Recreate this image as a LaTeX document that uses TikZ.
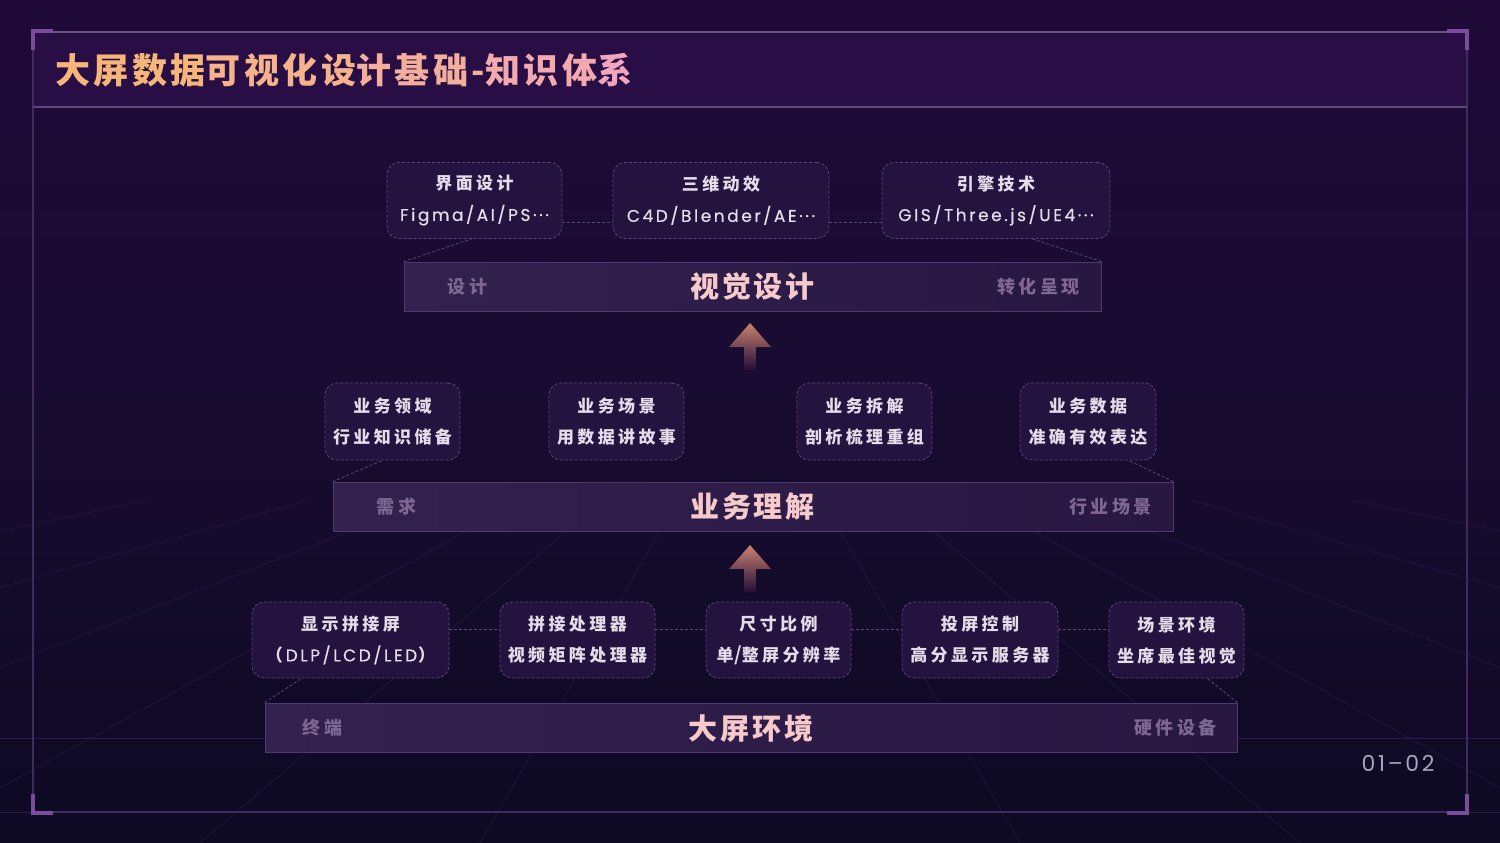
\documentclass[tikz,border=0pt]{standalone}
\usepackage{fontspec}
\usetikzlibrary{calc}
\newfontfamily\cjk{Noto Sans CJK SC}
\newfontfamily\cjkls{Noto Sans CJK SC}[LetterSpace=20]
\newfontfamily\cjkbig{Noto Sans CJK SC}[LetterSpace=10]
\newfontfamily\cjktitle{Noto Sans CJK SC}[LetterSpace=10]
\newfontfamily\latls{Poppins}[LetterSpace=15,FakeBold=0.5]
\newfontfamily\pagefont{Poppins}[LetterSpace=12]
\definecolor{bgtop}{HTML}{200A38}
\definecolor{bgmid}{HTML}{180B30}
\definecolor{bgbot}{HTML}{0D0A22}
\definecolor{framecol}{HTML}{3F2B5F}
\definecolor{cornercol}{HTML}{7B4C9C}
\definecolor{titlebarcol}{HTML}{2A0F47}
\definecolor{cardfill}{HTML}{261542}
\definecolor{cardline}{HTML}{5C4579}
\definecolor{cardtext}{HTML}{E4DCE8}
\definecolor{barleft}{HTML}{33214F}
\definecolor{barright}{HTML}{271741}
\definecolor{barline}{HTML}{4E3A6C}
\definecolor{sidetext}{HTML}{806792}
\definecolor{maintext}{HTML}{F6CACB}
\definecolor{titleA}{HTML}{F6B67A}
\definecolor{titleB}{HTML}{F2A6BE}
\definecolor{pagetext}{HTML}{A7A3BD}
\definecolor{arrowtop}{HTML}{C98270}
\definecolor{gridcol}{HTML}{4A2F7A}
\tikzset{
  card/.style={draw=cardline, dash pattern=on 3pt off 2pt, line width=0.8pt,
    rounded corners=12pt, fill=cardfill, fill opacity=0.85, text opacity=1,
    align=center, text=cardtext, inner sep=0pt, minimum height=76pt,
    font=\fontsize{17}{31}\selectfont},
  conn/.style={draw=cardline, dash pattern=on 3pt off 2pt, line width=0.8pt},
  bar/.style={draw=barline, line width=0.8pt, left color=barleft, right color=barright,
    minimum height=49pt, inner sep=0pt},
  maintitle/.style={text=maintext, font=\cjkbig\bfseries\fontsize{29}{29}\selectfont},
  sidelabel/.style={text=sidetext, font=\cjkls\bfseries\fontsize{18}{18}\selectfont},
  corner/.style={draw=cornercol, line width=4pt},
  uparrow/.style={top color=arrowtop, bottom color=bgtop, draw=none},
}
\begin{document}
\begin{tikzpicture}[x=1pt,y=-1pt]
\useasboundingbox (0,0) rectangle (1500,843);
% background
\fill[top color=bgtop, bottom color=bgbot, middle color=bgmid] (0,0) rectangle (1500,843);
% floor grid
\begin{scope}
\clip (0,500) rectangle (1500,843);
\foreach \xx in {-2400,-1500,-900,-450,-100,200,480,1020,1300,1600,1950,2400,3000,3900}
  \draw[gridcol, opacity=0.3, line width=0.7pt] (750,375) -- (\xx,843);
\end{scope}
\draw[gridcol, opacity=0.5, line width=0.7pt] (0,738) -- (1500,738);
\draw[gridcol, opacity=0.5, line width=0.7pt] (0,812) -- (1500,812);
% title bar and frame
\fill[titlebarcol, opacity=0.9] (33,32) rectangle (1467,107);
\draw[framecol, line width=1.2pt] (33,32) rectangle (1467,812);
\draw[framecol!80!white, line width=1.2pt] (33,32) -- (1467,32);
\draw[framecol!85!white, line width=1.2pt] (33,107) -- (1467,107);
\draw[corner] (33,50) -- (33,31) -- (53,31);
\draw[corner] (1447,31) -- (1467,31) -- (1467,50);
\draw[corner] (33,794) -- (33,813) -- (53,813);
\draw[corner] (1447,813) -- (1467,813) -- (1467,794);
\node[anchor=west, inner sep=0pt, font=\cjktitle\bfseries\fontsize{35}{35}\selectfont] (title) at (55,70)
  {\textcolor{titleA}{大屏数据}\textcolor{titleA!75!titleB}{可视化设}\textcolor{titleA!50!titleB}{计基础-}\textcolor{titleA!25!titleB}{知识体}\textcolor{titleB}{系}};
\node[text=pagetext, font=\pagefont\fontsize{22}{22}\selectfont, inner sep=0pt] (page) at (1398,763) {01–02};

% ---------- level 3: visual design ----------
\node[bar, minimum width=697pt] (bar1) at (752.5,286.5) {};
\node[maintitle] (bar1t) at (752.5,287) {视觉设计};
\node[sidelabel] (bar1l) at ([xshift=64pt]bar1.west) {设计};
\node[sidelabel] (bar1r) at ([xshift=-63pt]bar1.east) {转化呈现};
\node[card, minimum width=175pt] (a1) at (474.5,200.5) {{\cjkls\bfseries 界面设计}\\{\latls Figma/AI/PS···}};
\node[card, minimum width=216pt] (a2) at (721,200.5) {{\cjkls\bfseries 三维动效}\\{\latls C4D/Blender/AE···}};
\node[card, minimum width=228pt] (a3) at (996,200.5) {{\cjkls\bfseries 引擎技术}\\{\latls GIS/Three.js/UE4···}};
\draw[conn] ([yshift=-21.5pt]a1.east) -- ([yshift=-21.5pt]a2.west);
\draw[conn] ([yshift=-21.5pt]a2.east) -- ([yshift=-21.5pt]a3.west);
\draw[conn] (bar1.north west) -- ([xshift=85pt]a1.south west);
\draw[conn] (bar1.north east) -- ([xshift=-78pt]a3.south east);
% arrow 1
\coordinate (ar1) at (750,323);
\fill[uparrow] (ar1) -- ++(21,24) -- ++(-15,0) -- ++(0,24) -- ++(-12,0) -- ++(0,-24) -- ++(-15,0) -- cycle;

% ---------- level 2: business ----------
\node[bar, minimum width=840pt] (bar2) at (753,506.5) {};
\node[maintitle] (bar2t) at (752.5,507) {业务理解};
\node[sidelabel] (bar2l) at ([xshift=64pt]bar2.west) {需求};
\node[sidelabel] (bar2r) at ([xshift=-63pt]bar2.east) {行业场景};
\node[card, minimum width=135pt, minimum height=77pt] (b1) at (392.5,421.5) {{\cjkls\bfseries 业务领域}\\{\cjkls\bfseries 行业知识储备}};
\node[card, minimum width=135pt, minimum height=77pt] (b2) at (616.5,421.5) {{\cjkls\bfseries 业务场景}\\{\cjkls\bfseries 用数据讲故事}};
\node[card, minimum width=135pt, minimum height=77pt] (b3) at (864.5,421.5) {{\cjkls\bfseries 业务拆解}\\{\cjkls\bfseries 剖析梳理重组}};
\node[card, minimum width=136pt, minimum height=77pt] (b4) at (1088,421.5) {{\cjkls\bfseries 业务数据}\\{\cjkls\bfseries 准确有效表达}};
\draw[conn] (bar2.north west) -- ([xshift=58pt]b1.south west);
\draw[conn] (bar2.north east) -- ([xshift=-28pt]b4.south east);
% arrow 2
\coordinate (ar2) at (750,545);
\fill[uparrow] (ar2) -- ++(21,24) -- ++(-15,0) -- ++(0,24) -- ++(-12,0) -- ++(0,-24) -- ++(-15,0) -- cycle;

% ---------- level 1: environment ----------
\node[bar, minimum width=972pt] (bar3) at (751,727.5) {};
\node[maintitle] (bar3t) at (751,728) {大屏环境};
\node[sidelabel] (bar3l) at ([xshift=58pt]bar3.west) {终端};
\node[sidelabel] (bar3r) at ([xshift=-62pt]bar3.east) {硬件设备};
\node[card, minimum width=197pt] (c1) at (350.5,640) {{\cjkls\bfseries 显示拼接屏}\\{\cjk\bfseries （\hspace{3pt}}{\latls DLP/LCD/LED}{\cjk\bfseries \hspace{1pt}）}};
\node[card, minimum width=155pt] (c2) at (577.5,640) {{\cjkls\bfseries 拼接处理器}\\{\cjkls\bfseries 视频矩阵处理器}};
\node[card, minimum width=145pt] (c3) at (778.5,640) {{\cjkls\bfseries 尺寸比例}\\{\cjkls\bfseries 单}{\latls /}{\cjkls\bfseries 整屏分辨率}};
\node[card, minimum width=156pt] (c4) at (980,640) {{\cjkls\bfseries 投屏控制}\\{\cjkls\bfseries 高分显示服务器}};
\node[card, minimum width=135pt] (c5) at (1176.5,640) {{\cjkls\bfseries 场景环境}\\{\cjkls\bfseries 坐席最佳视觉}};
\draw[conn] ([yshift=11pt]c1.east) -- ([yshift=11pt]c2.west);
\draw[conn] ([yshift=11pt]c2.east) -- ([yshift=11pt]c3.west);
\draw[conn] ([yshift=11pt]c3.east) -- ([yshift=11pt]c4.west);
\draw[conn] ([yshift=11pt]c4.east) -- ([yshift=11pt]c5.west);
\draw[conn] (bar3.north west) -- ([xshift=50pt]c1.south west);
\draw[conn] (bar3.north east) -- ([xshift=-37pt]c5.south east);
\end{tikzpicture}
\end{document}
